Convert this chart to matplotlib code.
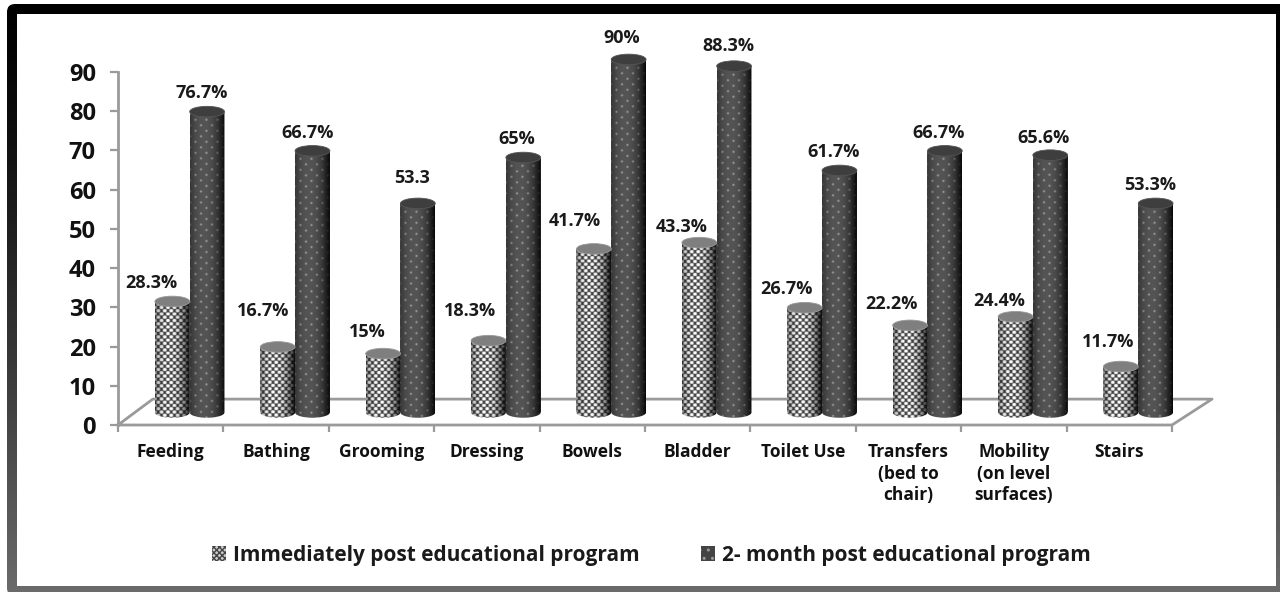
import matplotlib
matplotlib.use('Agg')
import matplotlib.pyplot as plt
import numpy as np
from matplotlib.patches import Ellipse, Patch, PathPatch, FancyBboxPatch, Rectangle
from matplotlib.path import Path

plt.rcParams['font.family'] = ['Open Sans', 'DejaVu Sans']
plt.rcParams['hatch.linewidth'] = 1.0

categories = ['Feeding', 'Bathing', 'Grooming', 'Dressing', 'Bowels', 'Bladder', 'Toilet Use',
              'Transfers\n(bed to\nchair)', 'Mobility\n(on level\nsurfaces)', 'Stairs']
immediate = [28.3, 16.7, 15, 18.3, 41.7, 43.3, 26.7, 22.2, 24.4, 11.7]
two_month = [76.7, 66.7, 53.3, 65, 90, 88.3, 61.7, 66.7, 65.6, 53.3]
immediate_labels = ['28.3%', '16.7%', '15%', '18.3%', '41.7%', '43.3%', '26.7%', '22.2%', '24.4%', '11.7%']
two_month_labels = ['76.7%', '66.7%', '53.3', '65%', '90%', '88.3%', '61.7%', '66.7%', '65.6%', '53.3%']

# label offsets from the bar top, pixels
immediate_dx = [-21, -15, -16, -18, -19, -18, -18, -19, -16, -13]
immediate_dy = [18, 36, 22, 30, 28, 16, 19, 21, 16, 25]
two_month_dx = [-5, -5, -6, -7, -7, -6, -6, -6, -7, -6]
two_month_dy = [19, 18, 25, 19, 21, 20, 18, 18, 17, 18]

W, H = 1280, 592
fig = plt.figure(figsize=(W / 100, H / 100), dpi=100, facecolor='white')

# frame behind the chart
bg = fig.add_axes([0, 0, 1, 1], zorder=0)
bg.axis('off')
ramp = np.linspace(0, 1, 256).reshape(-1, 1)
frame = bg.imshow(0.42 * ramp ** 1.3, extent=(0, W, H, 0), cmap='gray', vmin=0, vmax=1, aspect='auto')
outer = FancyBboxPatch((7, 4), W, H, boxstyle='round,pad=0,rounding_size=8', transform=bg.transData,
                       facecolor='none', edgecolor='none')
bg.add_patch(outer)
frame.set_clip_path(outer)
bg.add_patch(Rectangle((17, 14), 1259, 572, facecolor='white', edgecolor='none'))
bg.set_xlim(0, W)
bg.set_ylim(H, 0)

ax = fig.add_axes([118 / W, (H - 425) / H, (1172 - 118) / W, (425 - 72) / H], zorder=1)
ax.patch.set_alpha(0)

n = len(categories)
width = 0.33
depth_x, depth_y = 0.18, 3.2
ell_h = 2.7
GREY = '#9a9a9a'
px_w = 35  # bar width on screen
px_unit = 353 / 90


def texture(h_units, spacing, radius, fg, back):
    # dot pattern with the cylinder shading on top, 3x oversampled
    nx, ny = px_w * 3, max(int(h_units * px_unit * 3), 3)
    xx, yy = np.meshgrid((np.arange(nx) + 0.5) / 3, (np.arange(ny) + 0.5) / 3)
    row_h = spacing * 0.5
    row = np.floor(yy / row_h)
    col_x = (xx + (row % 2) * spacing / 2) % spacing - spacing / 2
    row_y = yy % row_h - row_h / 2
    d = np.hypot(col_x, row_y)
    dots = np.clip((radius + 0.7 - d) / 1.4, 0, 1)
    t = np.linspace(-1, 1, nx)[None, :]
    shade = 1 - 0.62 * np.abs(t + 0.2) ** 2.2
    return (back + (fg - back) * dots) * shade


def cylinders(pos, values, face, spacing, radius, fg, back, top_face, top_edge):
    bars = ax.bar(pos, values, width, bottom=depth_y, color=face, linewidth=0, clip_on=False, zorder=3)
    for bar, x, v in zip(bars, pos, values):
        img = ax.imshow(texture(v + ell_h, spacing, radius, fg, back),
                        extent=(x - width / 2, x + width / 2, depth_y - ell_h / 2, depth_y + v + ell_h / 2),
                        cmap='gray', vmin=0, vmax=1, aspect='auto', interpolation='antialiased', zorder=3.1)
        th = np.linspace(np.pi, 2 * np.pi, 30)
        xs = x + width / 2 * np.cos(th)
        ys = depth_y + ell_h / 2 * np.sin(th)
        verts = np.vstack([np.column_stack([xs, ys]), [x + width / 2, depth_y + v],
                           [x - width / 2, depth_y + v], [xs[0], ys[0]]])
        img.set_clip_box(fig.bbox)
        img.set_clip_path(PathPatch(Path(verts), transform=ax.transData))
        ax.add_patch(Ellipse((x, depth_y + v), width, ell_h, facecolor=top_face, edgecolor=top_edge,
                             linewidth=0.6, clip_on=False, zorder=3.2))


# chart floor
ax.plot([0, 0.33, n + 0.38, n, 0], [0, 6.6, 6.6, 0, 0], color=GREY, lw=2, clip_on=False, zorder=1)

x = np.arange(n) + 0.5 + depth_x
cylinders(x - width / 2, immediate, '#999999', 6.5, 1.9, 1.0, 0.25, '#7f7f7f', '#999999')
cylinders(x + width / 2, two_month, '#474747', 11.0, 0.9, 0.68, 0.33, '#3e3e3e', '#555555')

for i in range(n):
    ax.annotate(immediate_labels[i], (x[i] - width / 2, immediate[i] + depth_y),
                xytext=(immediate_dx[i], immediate_dy[i]), textcoords='offset pixels',
                ha='center', va='center', fontsize=13, fontweight='bold', color='#1a1a1a',
                annotation_clip=False, zorder=5)
    ax.annotate(two_month_labels[i], (x[i] + width / 2, two_month[i] + depth_y),
                xytext=(two_month_dx[i], two_month_dy[i]), textcoords='offset pixels',
                ha='center', va='center', fontsize=13, fontweight='bold', color='#1a1a1a',
                annotation_clip=False, zorder=5)

ax.set_xlim(0, n)
ax.set_ylim(0, 90)
ax.set_yticks(range(0, 91, 10))
ax.set_xticks(range(n + 1))
ax.set_xticklabels([])
ax.set_xticks(np.arange(n) + 0.5, categories, minor=True)
ax.tick_params(axis='y', length=6, width=1.6, color=GREY, labelsize=17, labelcolor='#111111', pad=10)
ax.tick_params(axis='x', which='major', length=5, width=1.6, color=GREY)
ax.tick_params(axis='x', which='minor', length=0, labelsize=12.5, labelcolor='#111111', pad=13)
for lab in ax.get_yticklabels() + ax.get_xticklabels(minor=True):
    lab.set_fontweight('bold')
    lab.set_linespacing(1.25)
for s in ['top', 'right', 'bottom']:
    ax.spines[s].set_visible(False)
ax.spines['left'].set_color(GREY)
ax.spines['left'].set_linewidth(2)

handles = [Patch(facecolor='#cccccc', hatch='xxxxxx', edgecolor='#444444', linewidth=0,
                 label='Immediately post educational program'),
           Patch(facecolor='#444444', hatch='..', edgecolor='#999999', linewidth=0,
                 label='2- month post educational program')]
fig.legend(handles=handles, loc='center', bbox_to_anchor=(651 / W, (H - 555) / H), ncols=2, frameon=False,
           prop={'size': 15, 'weight': 'bold'}, handlelength=0.7, handleheight=0.7, handletextpad=0.3,
           columnspacing=2.95, labelcolor='#1a1a1a')

fig.savefig('out.png', dpi=100)
